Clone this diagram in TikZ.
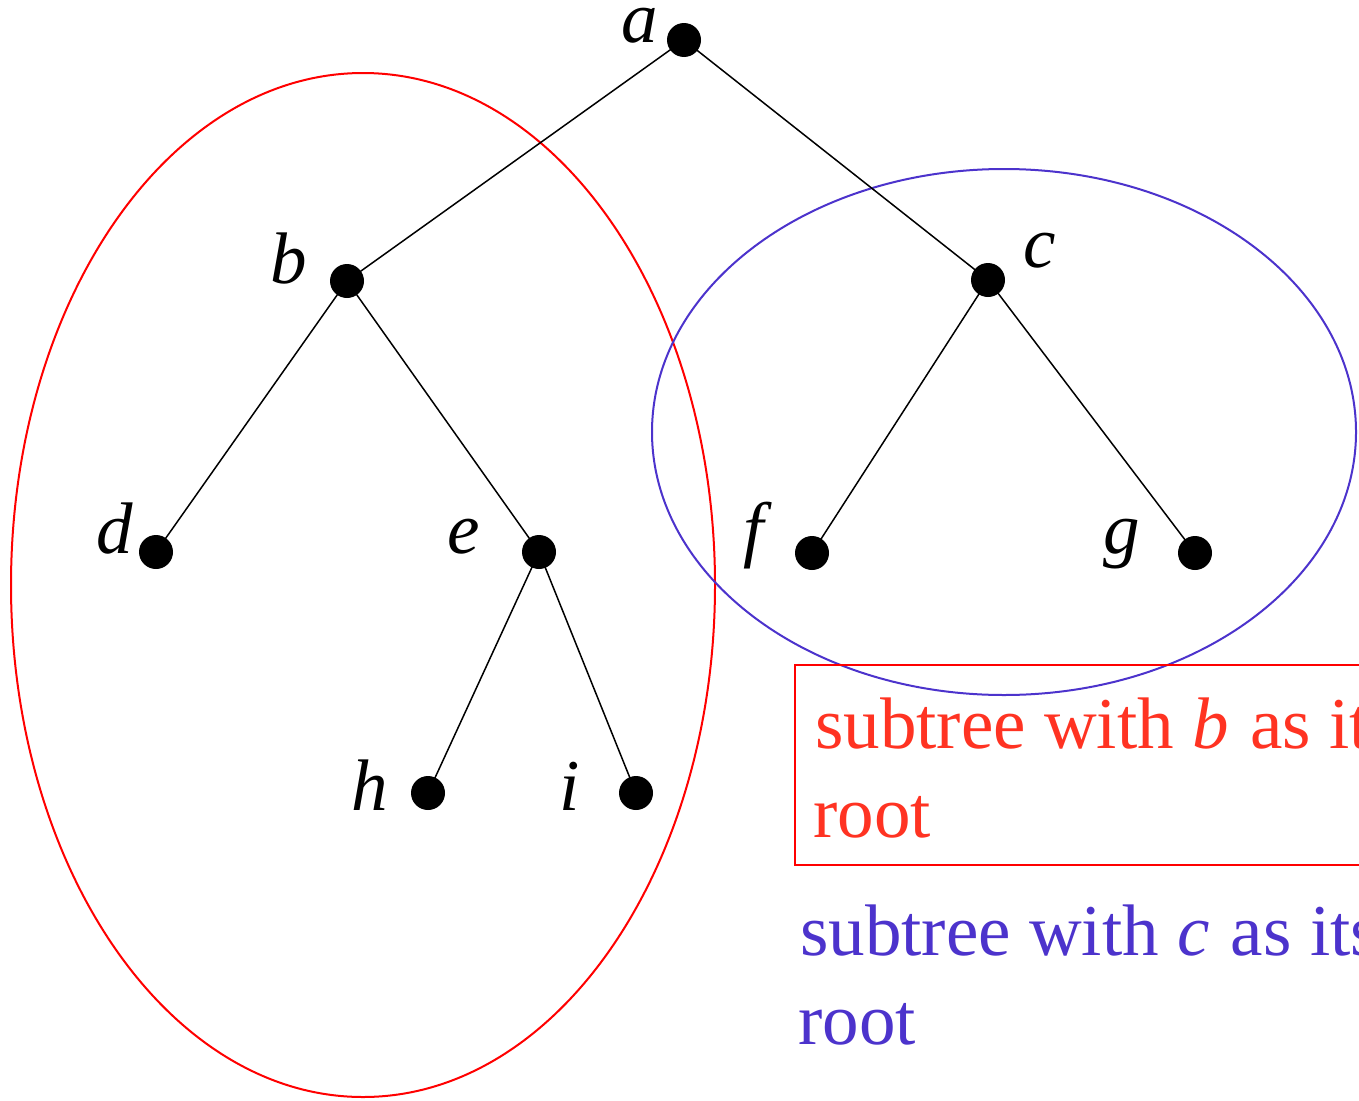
\documentclass[tikz,border=0pt]{standalone}
\usepackage{fontspec}
\setmainfont{Liberation Serif}
\definecolor{tred}{RGB}{255,0,0}
\definecolor{ttred}{RGB}{255,51,34}
\definecolor{tblue}{RGB}{76,51,204}
\begin{document}
\begin{tikzpicture}[x=1pt,y=-1pt,
  dot/.style={circle,fill=black,inner sep=0pt,minimum size=34pt},
  lbl/.style={anchor=base east,inner sep=0pt,font=\fontsize{73}{89}\selectfont\itshape},
  edge/.style={draw=black,line width=1.5pt},
  bigtxt/.style={anchor=base west,inner sep=0pt,font=\fontsize{73}{89}\selectfont}]
\useasboundingbox (0,0) rectangle (1359,1100);
\clip (0,0) rectangle (1359,1100);
% ellipses
\draw[tred,line width=2pt] (363,585) ellipse [x radius=352,y radius=512];
\draw[tblue,line width=2pt] (1004,432) ellipse [x radius=352,y radius=263];
% dots
\node[dot] (a) at (684,40) {};
\node[dot] (b) at (347,281) {};
\node[dot] (c) at (988,280) {};
\node[dot] (d) at (156,552) {};
\node[dot] (e) at (539,552) {};
\node[dot] (f) at (812,553) {};
\node[dot] (g) at (1195,553) {};
\node[dot] (h) at (428,793) {};
\node[dot] (i) at (636,793) {};
% edges
\draw[edge] (a.center) -- (b.center);
\draw[edge] (a.center) -- (c.center);
\draw[edge] (b.center) -- (d.center);
\draw[edge] (b.center) -- (e.center);
\draw[edge] (c.center) -- (f.center);
\draw[edge] (c.center) -- (g.center);
\draw[edge] (e.center) -- (h.center);
\draw[edge] (e.center) -- (i.center);
% labels
\node[lbl] (la) at (658,42) {a};
\node[lbl] (lb) at (307,283) {b};
\node[lbl] (lc) at (1056,267) {c};
\node[lbl] (ld) at (133,553) {d};
\node[lbl] (le) at (480,553) {e};
\node[lbl] (lf) at (764,553) {f};
\node[lbl] (lg) at (1140,553) {g};
\node[lbl] (lh) at (388,810) {h};
\node[lbl] (li) at (580,810) {i};
% red box with caption
\draw[tred,line width=2pt] (795,665) rectangle (1420,865);
\node[bigtxt,text=ttred] (rt1) at (815,748) {subtree with \textit{b}\hspace{3pt} as its};
\node[bigtxt,text=ttred] (rt2) at (813,837) {root};
% blue caption
\node[bigtxt,text=tblue] (bt1) at (800,955) {subtree with \textit{c}\hspace{3pt} as its};
\node[bigtxt,text=tblue] (bt2) at (798,1044) {root};
\end{tikzpicture}
\end{document}
